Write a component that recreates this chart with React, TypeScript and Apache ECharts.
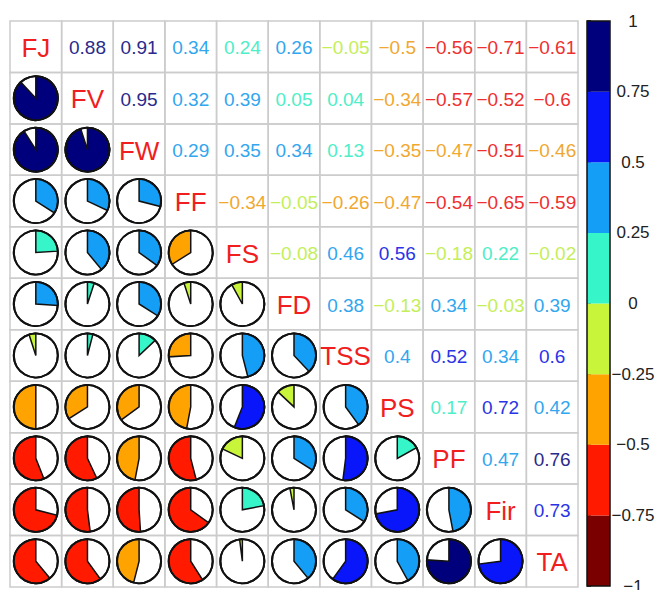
import React, { useEffect, useRef } from "react";
import * as echarts from "echarts";

const names = ["FJ", "FV", "FW", "FF", "FS", "FD", "TSS", "PS", "PF", "Fir", "TA"];
// upper-triangle correlations, row by row (values to the right of the diagonal)
const rowFJ = [0.88, 0.91, 0.34, 0.24, 0.26, -0.05, -0.5, -0.56, -0.71, -0.61];
const rowFV = [0.95, 0.32, 0.39, 0.05, 0.04, -0.34, -0.57, -0.52, -0.6];
const rowFW = [0.29, 0.35, 0.34, 0.13, -0.35, -0.47, -0.51, -0.46];
const rowFF = [-0.34, -0.05, -0.26, -0.47, -0.54, -0.65, -0.59];
const rowFS = [-0.08, 0.46, 0.56, -0.18, 0.22, -0.02];
const rowFD = [0.38, -0.13, 0.34, -0.03, 0.39];
const rowTSS = [0.4, 0.52, 0.34, 0.6];
const rowPS = [0.17, 0.72, 0.42];
const rowPF = [0.47, 0.76];
const rowFir = [0.73];
const upperRows = [rowFJ, rowFV, rowFW, rowFF, rowFS, rowFD, rowTSS, rowPS, rowPF, rowFir, []];

const colorBreaks = [-1, -0.75, -0.5, -0.25, 0, 0.25, 0.5, 0.75, 1];
const palette = ["#7A0000", "#FF1A00", "#FFA300", "#C8F53A", "#36F5C8", "#149EF5", "#0A16FA", "#00007C"];
const textPalette = ["#8A2020", "#EE3030", "#F0A830", "#C4EE5A", "#4EEEC8", "#32A6EE", "#2A34E6", "#2A2A8A"];

const FONT = "'Liberation Sans', Arial, Helvetica, sans-serif";

function binIndex(v: number) {
  let idx = Math.floor((v + 1) / 0.25 + 1e-9);
  if (idx < 0) idx = 0;
  if (idx > 7) idx = 7;
  return idx;
}

function fmt(v: number) {
  return (v < 0 ? "\u2212" : "") + String(Math.abs(v));
}

function buildMatrix() {
  const n = names.length;
  const m: number[][] = [];
  for (let i = 0; i < n; i++) {
    m.push(new Array(n).fill(1));
  }
  for (let i = 0; i < n; i++) {
    const row = upperRows[i];
    for (let k = 0; k < row.length; k++) {
      const j = i + 1 + k;
      m[i][j] = row[k];
      m[j][i] = row[k];
    }
  }
  return m;
}

export default function App() {
  const ref = useRef<HTMLDivElement>(null);
  useEffect(() => {
    if (!ref.current) return;
    const chart = echarts.init(ref.current, null, { renderer: "svg" });
    const m = buildMatrix();
    const n = names.length;
    const cells: number[][] = [];
    for (let r = 0; r < n; r++) {
      for (let c = 0; c < n; c++) {
        cells.push([c, r, m[r][c]]);
      }
    }
    const bins = palette.map((_, i) => [colorBreaks[i], colorBreaks[i + 1], i]);

    const option: any = {
      animation: false,
      backgroundColor: "#ffffff",
      grid: [
        { left: 10, top: 21, width: 568, height: 566, outerBoundsMode: "none", containLabel: false },
        { left: 587, top: 21, width: 23, height: 565, outerBoundsMode: "none", containLabel: false },
      ],
      xAxis: [
        { type: "category", data: names, show: false, gridIndex: 0 },
        { type: "value", min: 0, max: 1, show: false, gridIndex: 1 },
      ],
      yAxis: [
        { type: "category", data: names, show: false, inverse: true, gridIndex: 0 },
        {
          type: "value",
          gridIndex: 1,
          min: -1,
          max: 1,
          interval: 0.25,
          position: "right",
          axisLine: { show: false },
          splitLine: { show: false },
          axisTick: { show: true, length: 4, lineStyle: { color: "#111", width: 1.5 } },
          axisLabel: {
            show: true,
            showMinLabel: true,
            showMaxLabel: true,
            hideOverlap: false,
            margin: 23,
            align: "center",
            color: "#222",
            fontSize: 17,
            fontFamily: FONT,
            formatter: (v: number) => fmt(Math.round(v * 100) / 100),
          },
        },
      ],
      series: [
        {
          type: "custom",
          xAxisIndex: 0,
          yAxisIndex: 0,
          data: cells,
          renderItem: (params: any, api: any) => {
            const c = api.value(0);
            const r = api.value(1);
            const v = api.value(2);
            const pt = api.coord([c, r]);
            const sz = api.size([1, 1]);
            const cx = pt[0];
            const cy = pt[1];
            const w = sz[0];
            const h = sz[1];
            const children: any[] = [
              {
                type: "rect",
                shape: { x: cx - w / 2, y: cy - h / 2, width: w, height: h },
                style: { fill: "none", stroke: "#CCCCCC", lineWidth: 1.5 },
              },
            ];
            if (c === r) {
              children.push({
                type: "text",
                x: cx,
                y: cy + 1,
                style: {
                  text: names[c],
                  fill: "#F01E1E",
                  fontSize: 26,
                  fontFamily: FONT,
                  align: "center",
                  verticalAlign: "middle",
                  textAlign: "center",
                  textVerticalAlign: "middle",
                },
              });
            } else if (c > r) {
              children.push({
                type: "text",
                x: cx,
                y: cy + 1,
                style: {
                  text: fmt(v),
                  fill: textPalette[binIndex(v)],
                  fontSize: 19,
                  fontFamily: FONT,
                  align: "center",
                  verticalAlign: "middle",
                  textAlign: "center",
                  textVerticalAlign: "middle",
                },
              });
            } else {
              const R = 22;
              const start = -Math.PI / 2;
              const end = start + (v >= 0 ? 1 : -1) * 2 * Math.PI * Math.abs(v);
              children.push({
                type: "circle",
                shape: { cx, cy, r: R },
                style: { fill: "#ffffff", stroke: "#111", lineWidth: 2 },
              });
              children.push({
                type: "sector",
                shape: { cx, cy, r0: 0, r: R, startAngle: start, endAngle: end, clockwise: v >= 0 },
                style: { fill: palette[binIndex(v)], stroke: "#111", lineWidth: 1.5 },
              });
              children.push({
                type: "circle",
                shape: { cx, cy, r: R },
                style: { fill: "none", stroke: "#111", lineWidth: 2 },
              });
            }
            return { type: "group", children };
          },
        },
        {
          type: "custom",
          xAxisIndex: 1,
          yAxisIndex: 1,
          data: bins,
          encode: { x: -1, y: [0, 1] },
          renderItem: (params: any, api: any) => {
            const lo = api.value(0);
            const hi = api.value(1);
            const idx = api.value(2);
            const p1 = api.coord([0, hi]);
            const p2 = api.coord([1, lo]);
            return {
              type: "rect",
              shape: { x: p1[0], y: p1[1], width: p2[0] - p1[0], height: p2[1] - p1[1] },
              style: { fill: palette[idx], stroke: "none" },
            };
          },
        },
        {
          type: "custom",
          xAxisIndex: 1,
          yAxisIndex: 1,
          data: [[colorBreaks[0], colorBreaks[colorBreaks.length - 1]]],
          encode: { x: -1, y: [0, 1] },
          z: 3,
          renderItem: (params: any, api: any) => {
            const lo = api.value(0);
            const hi = api.value(1);
            const p1 = api.coord([0, hi]);
            const p2 = api.coord([1, lo]);
            return {
              type: "rect",
              shape: { x: p1[0], y: p1[1], width: p2[0] - p1[0], height: p2[1] - p1[1] },
              style: { fill: "none", stroke: "#111", lineWidth: 1.5 },
            };
          },
        },
      ],
    };
    chart.setOption(option);
    return () => chart.dispose();
  }, []);
  return (
    <div
      ref={ref}
      style={{ position: "absolute", left: 0, top: 0, width: 658, height: 590, background: "#fff" }}
    />
  );
}
